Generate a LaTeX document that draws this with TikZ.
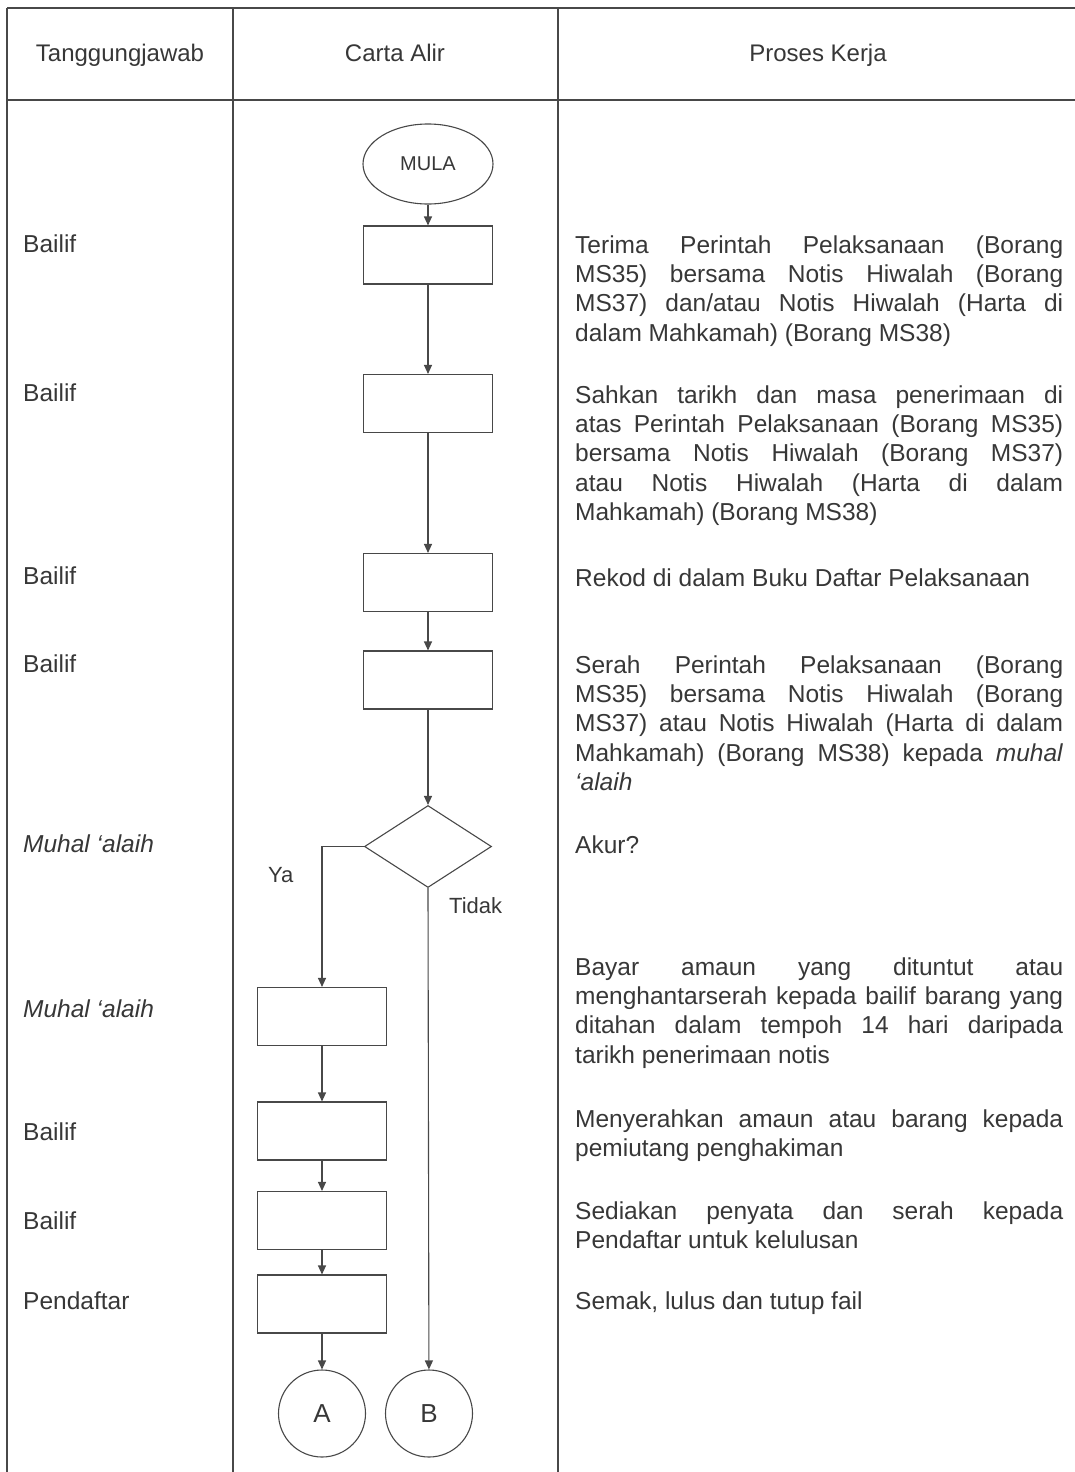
\documentclass[tikz,border=0pt]{standalone}
\usepackage{fontspec}
\setmainfont{Liberation Sans}
\usepackage{xcolor}
\definecolor{caInk} {RGB}{ 55,  55,  55}
\definecolor{caRule}{RGB}{ 72,  72,  72}
\usetikzlibrary{
  arrows.meta,
  positioning,
  shapes.geometric,
}
\sloppy

\begin{document}
\begin{tikzpicture}[
  x=1pt, y=-1pt,
  >={Triangle[length=9pt,width=8pt]},
  rule/.style  ={draw=caRule, line width=1.3pt},
  proc/.style  ={draw=caRule, line width=1.1pt, rectangle,
                 minimum width=129pt, minimum height=58pt, inner sep=0pt},
  mula/.style  ={draw=caRule, line width=1.1pt, ellipse,
                 minimum width=130pt, minimum height=80pt, inner sep=0pt,
                 font=\fontsize{20}{24}\selectfont, text=caInk},
  akur/.style  ={draw=caRule, line width=1.1pt, diamond,
                 minimum width=127pt, minimum height=82pt, inner sep=0pt},
  conn/.style  ={draw=caRule, line width=1.1pt, circle,
                 minimum size=87pt, inner sep=0pt,
                 font=\fontsize{26}{30}\selectfont, text=caInk},
  flow/.style  ={->, draw=caRule, line width=1.1pt},
  head/.style  ={anchor=base, font=\fontsize{24}{29}\selectfont, text=caInk},
  siapa/.style ={anchor=base west, inner sep=0pt,
                 font=\fontsize{24.5}{29}\selectfont, text=caInk},
  kerja/.style ={anchor=base west, inner sep=0pt, text width=488pt,
                 align=justify, font=\fontsize{24.5}{29.4}\selectfont, text=caInk},
  jawab/.style ={anchor=base west, inner sep=0pt,
                 font=\fontsize{22}{26}\selectfont, text=caInk},
]
  \useasboundingbox (0,0) rectangle (1075,1472);

  % Table rules
  \draw[rule] (7,8) -- (1075,8);
  \draw[rule] (7,100) -- (1075,100);
  \draw[rule] (7,8) -- (7,1472);
  \draw[rule] (233,8) -- (233,1472);
  \draw[rule] (558,8) -- (558,1472);

  % Column headings
  \node[head] (hTj) at (120,62) {Tanggungjawab};
  \node[head] (hCa) at (395,62) {Carta Alir};
  \node[head] (hPk) at (818,62) {Proses Kerja};

  % Flow chart
  \node[mula] (mula) at (428,164) {MULA};
  \node[proc] (s1)   at (428,255) {};
  \node[proc] (s2)   at (428,403.5) {};
  \node[proc] (s3)   at (428,582.5) {};
  \node[proc] (s4)   at (428,680) {};
  \node[akur] (dec)  at (428,846.5) {};
  \node[proc] (s5)   at (322,1016.5) {};
  \node[proc] (s6)   at (322,1131) {};
  \node[proc] (s7)   at (322,1220.5) {};
  \node[proc] (s8)   at (322,1304) {};
  \node[conn] (conA) at (322,1413.5) {A};
  \node[conn] (conB) at (429,1413.5) {B};

  \draw[flow] (mula) -- (s1);
  \draw[flow] (s1) -- (s2);
  \draw[flow] (s2) -- (s3);
  \draw[flow] (s3) -- (s4);
  \draw[flow] (s4) -- (dec);
  \draw[flow] (dec.west) -| (s5);
  \draw[flow] (dec.south) -- (conB);
  \draw[flow] (s5) -- (s6);
  \draw[flow] (s6) -- (s7);
  \draw[flow] (s7) -- (s8);
  \draw[flow] (s8) -- (conA);

  \node[jawab] (lYa)    at (268,882) {Ya};
  \node[jawab] (lTidak) at (449,913) {Tidak};

  % Tanggungjawab column
  \node[siapa] (t1) at (23,252)  {Bailif};
  \node[siapa] (t2) at (23,401)  {Bailif};
  \node[siapa] (t3) at (23,584)  {Bailif};
  \node[siapa] (t4) at (23,672)  {Bailif};
  \node[siapa] (t5) at (23,852)  {\itshape Muhal ‘alaih};
  \node[siapa] (t6) at (23,1017) {\itshape Muhal ‘alaih};
  \node[siapa] (t7) at (23,1140) {Bailif};
  \node[siapa] (t8) at (23,1229) {Bailif};
  \node[siapa] (t9) at (23,1309) {Pendaftar};

  % Proses Kerja column
  \node[kerja] (k1) at (575,253)
    {Terima Perintah Pelaksanaan (Borang\linebreak
     MS35) bersama Notis Hiwalah (Borang\linebreak
     MS37) dan/atau Notis Hiwalah (Harta di\linebreak
     dalam Mahkamah) (Borang MS38)};
  \node[kerja] (k2) at (575,403)
    {Sahkan tarikh dan masa penerimaan di\linebreak
     atas Perintah Pelaksanaan (Borang MS35)\linebreak
     bersama Notis Hiwalah (Borang MS37)\linebreak
     atau Notis Hiwalah (Harta di dalam\linebreak
     Mahkamah) (Borang MS38)};
  \node[kerja] (k3) at (575,586)
    {Rekod di dalam Buku Daftar Pelaksanaan};
  \node[kerja] (k4) at (575,673)
    {Serah Perintah Pelaksanaan (Borang\linebreak
     MS35) bersama Notis Hiwalah (Borang\linebreak
     MS37) atau Notis Hiwalah (Harta di dalam\linebreak
     Mahkamah) (Borang MS38) kepada \textit{muhal}\linebreak
     \textit{‘alaih}};
  \node[kerja] (k5) at (575,853) {Akur?};
  \node[kerja] (k6) at (575,975)
    {Bayar amaun yang dituntut atau\linebreak
     menghantarserah kepada bailif barang yang\linebreak
     ditahan dalam tempoh 14 hari daripada\linebreak
     tarikh penerimaan notis};
  \node[kerja] (k7) at (575,1127)
    {Menyerahkan amaun atau barang kepada\linebreak
     pemiutang penghakiman};
  \node[kerja] (k8) at (575,1219)
    {Sediakan penyata dan serah kepada\linebreak
     Pendaftar untuk kelulusan};
  \node[kerja] (k9) at (575,1309) {Semak, lulus dan tutup fail};
\end{tikzpicture}
\end{document}
